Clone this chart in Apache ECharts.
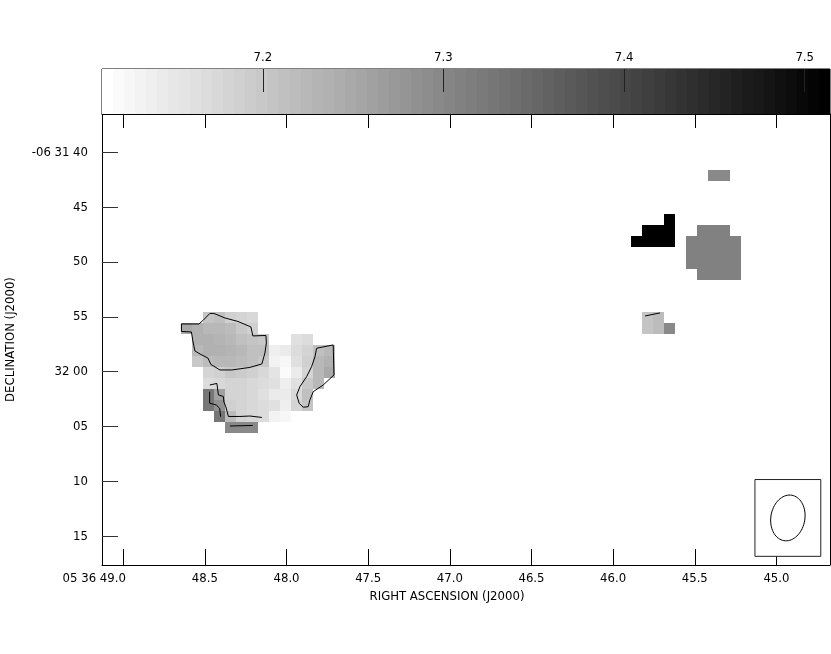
<!DOCTYPE html>
<html>
<head>
<meta charset="utf-8">
<script src="https://cdn.jsdelivr.net/npm/echarts@6/dist/echarts.min.js"></script>
<style>
  html, body { margin: 0; padding: 0; background: #fff; }
  #main { width: 831px; height: 654px; }
</style>
</head>
<body>
<div id="main"></div>
<script>
// grey wedge range and its labels
const wedgeMin = 7.111
const wedgeMax = 7.514
const wedgeTicks = [7.2, 7.3, 7.4, 7.5]
const wedgeSteps = 66

// axes (RA in seconds of 05h36m, Dec in arcsec past -06 31 00)
const raTicks = [49.0, 48.5, 48.0, 47.5, 47.0, 46.5, 46.0, 45.5, 45.0]
const decTicks = [40, 45, 50, 55, 60, 65, 70, 75]
const decLabels = ['-06 31 40', '45', '50', '55', '32 00', '05', '10', '15']

// map pixel grid: centre of col 0 / row 0, and pixel size
const raRef = 48.612
const decRef = 55.1
const pixRa = 0.0672
const pixDec = 1

// [row, first col, values...]
const pixelRows = [
  [-13, 48, [7.30, 7.30]],
  [-9, 44, [7.51]],
  [-8, 42, [7.51, 7.51, 7.51]],
  [-8, 47, [7.312, 7.312, 7.312]],
  [-7, 41, [7.51, 7.51, 7.51, 7.51]],
  [-7, 46, [7.312, 7.312, 7.312, 7.312, 7.312]],
  [-6, 46, [7.312, 7.312, 7.312, 7.312, 7.312]],
  [-5, 46, [7.312, 7.312, 7.312, 7.312, 7.312]],
  [-4, 47, [7.312, 7.312, 7.312, 7.312]],
  [0, 42, [7.205, 7.22]],
  [1, 42, [7.205, 7.22, 7.30]],
  [0, 2, [7.205, 7.21, 7.19, 7.18, 7.175]],
  [1, 0, [7.25, 7.235, 7.225, 7.225, 7.215, 7.20, 7.19]],
  [2, 1, [7.236, 7.236, 7.23, 7.223, 7.21, 7.204, 7.198]],
  [2, 10, [7.16, 7.166]],
  [3, 1, [7.223, 7.236, 7.236, 7.23, 7.223, 7.211, 7.211, 7.141, 7.147, 7.166, 7.179, 7.211, 7.223]],
  [4, 1, [7.198, 7.217, 7.223, 7.223, 7.217, 7.211, 7.198, 7.135, 7.128, 7.16, 7.185, 7.223, 7.236]],
  [5, 2, [7.179, 7.185, 7.198, 7.192, 7.185, 7.173, 7.154, 7.122, 7.147, 7.179, 7.223, 7.249]],
  [6, 2, [7.166, 7.173, 7.179, 7.179, 7.173, 7.166, 7.16, 7.141, 7.16, 7.198, 7.223]],
  [7, 2, [7.33, 7.261, 7.179, 7.179, 7.173, 7.16, 7.147, 7.147, 7.173, 7.211]],
  [8, 2, [7.33, 7.286, 7.185, 7.179, 7.173, 7.166, 7.16, 7.141, 7.179, 7.204]],
  [9, 3, [7.33, 7.22, 7.179, 7.173, 7.166, 7.135, 7.128]],
  [10, 4, [7.30, 7.30, 7.30]]
]

// contour paths, in [col, row] of the pixel grid
const contourA = [[-0.47, 0.55], [1.12, 0.55], [1.49, 0.23], [2.12, -0.41], [2.49, -0.41], [3.49, 0], [4.68, 0.32],
  [5.86, 0.82], [6.04, 1.64], [7.23, 1.6], [7.27, 2.28], [7.14, 3.19], [6.86, 4.19], [5.77, 4.51], [4.13, 4.74],
  [3.04, 4.74], [2.22, 4.24], [1.94, 3.65], [1.3, 3.33], [0.76, 3.01], [0.57, 2.1], [0.44, 1.28], [-0.47, 1.23], [-0.47, 0.55]]
const contourB = [[11.85, 2.76], [13.36, 2.46], [13.43, 5.2], [12.45, 6.11], [11.54, 6.72], [11.24, 7.47], [11.08, 8.09],
  [10.63, 8.14], [10.26, 7.78], [10.03, 7.02], [10.33, 6.26], [10.94, 5.35], [11.39, 4.44], [11.7, 3.53], [11.85, 2.76]]
const contourC = [[2.12, 6.11], [2.76, 5.97], [2.9, 7.02], [3.35, 7.16], [3.4, 7.66], [3.58, 8.11], [3.81, 8.98],
  [4.86, 8.98], [5.77, 8.94], [6.86, 9.07]]
const contourD = [[2.1, 6.72], [2.1, 7.77], [2.7, 7.93], [3.01, 8.23], [3.1, 9.0]]
const contourE = [[3.95, 9.85], [6.04, 9.8]]
const contourF = [[41.78, -0.18], [43.15, -0.46]]

// restoring beam (arcsec) and where it is drawn
const beamCentre = [44.930, 73.33]
const beamMajor = 4.2
const beamMinor = 3.1
const beamPA = -10
const beamBox = [6, 7]

const font = "'Liberation Sans Narrow', 'DejaVu Sans Condensed', sans-serif"

function toSky(col, row) {
  return [raRef - col * pixRa, decRef + row * pixDec]
}

function grey(v) {
  let t = (v - wedgeMin) / (wedgeMax - wedgeMin)
  t = Math.max(0, Math.min(0.9999, t))
  const step = Math.floor(t * wedgeSteps) / (wedgeSteps - 1)
  const g = Math.round(255 * (1 - step))
  return 'rgb(' + g + ',' + g + ',' + g + ')'
}

const pixels = []
pixelRows.forEach(function(r) {
  r[2].forEach(function(v, i) {
    const p = toSky(r[1] + i, r[0])
    pixels.push([p[0], p[1], v])
  })
})

const bands = []
for (let i = 0; i < wedgeSteps; i++) {
  const a = wedgeMin + (wedgeMax - wedgeMin) * i / wedgeSteps
  const b = wedgeMin + (wedgeMax - wedgeMin) * (i + 1) / wedgeSteps
  bands.push([a, b, (a + b) / 2])
}

function contourSeries(path) {
  return {
    type: 'line',
    xAxisIndex: 0,
    yAxisIndex: 0,
    data: path.map(function(p) { return toSky(p[0], p[1]) }),
    showSymbol: false,
    symbol: 'none',
    silent: true,
    z: 5,
    lineStyle: { color: '#000', width: 1 }
  }
}

const chart = echarts.init(document.getElementById('main'))

chart.setOption({
  animation: false,
  backgroundColor: '#fff',
  textStyle: { fontFamily: font },
  grid: [
    { left: 102, top: 114, width: 728, height: 451, show: false, outerBoundsMode: 'none', containLabel: false },
    { left: 102, top: 69, width: 728, height: 45, show: true, borderColor: '#000', borderWidth: 1, backgroundColor: 'transparent', outerBoundsMode: 'none', containLabel: false }
  ],
  xAxis: [
    {
      gridIndex: 0,
      type: 'value',
      position: 'bottom',
      min: 44.672,
      max: 49.13,
      inverse: true,
      splitLine: { show: false },
      axisLine: { show: true, onZero: false, lineStyle: { color: '#000', width: 1 } },
      axisTick: { show: true, inside: true, length: 16, customValues: raTicks, lineStyle: { color: '#000' } },
      axisLabel: {
        customValues: raTicks,
        margin: 7,
        fontSize: 13,
        fontFamily: font,
        color: '#000',
        formatter: function(v) {
          return Math.abs(v - 49) < 1e-6 ? '05 36 49.0{s| }' : v.toFixed(1)
        },
        rich: { s: { width: 58, fontSize: 13 } }
      },
      name: 'RIGHT ASCENSION (J2000)',
      nameLocation: 'middle',
      nameGap: 23,
      nameTextStyle: { fontSize: 13, fontFamily: font, color: '#000', padding: [0, 38, 0, 0] }
    },
    {
      gridIndex: 0,
      type: 'value',
      position: 'top',
      min: 44.672,
      max: 49.13,
      inverse: true,
      splitLine: { show: false },
      axisLine: { show: true, onZero: false, lineStyle: { color: '#000', width: 1 } },
      axisTick: { show: true, inside: true, length: 14, customValues: raTicks, lineStyle: { color: '#000' } },
      axisLabel: { show: false }
    },
    {
      gridIndex: 1,
      type: 'value',
      position: 'top',
      min: wedgeMin,
      max: wedgeMax,
      splitLine: { show: false },
      axisLine: { show: false, onZero: false },
      axisTick: { show: true, inside: true, length: 23, customValues: wedgeTicks, lineStyle: { color: '#222' } },
      axisLabel: {
        customValues: wedgeTicks,
        margin: 5,
        fontSize: 13,
        fontFamily: font,
        color: '#000',
        formatter: function(v) { return v.toFixed(1) }
      },
      z: 10
    }
  ],
  yAxis: [
    {
      gridIndex: 0,
      type: 'value',
      position: 'left',
      min: 36.51,
      max: 77.62,
      inverse: true,
      splitLine: { show: false },
      axisLine: { show: true, onZero: false, lineStyle: { color: '#000', width: 1 } },
      axisTick: { show: true, inside: true, length: 16, customValues: decTicks, lineStyle: { color: '#333' } },
      axisLabel: {
        customValues: decTicks,
        margin: 14,
        fontSize: 13,
        fontFamily: font,
        color: '#000',
        formatter: function(v) { return decLabels[decTicks.indexOf(Math.round(v))] }
      },
      name: 'DECLINATION (J2000)',
      nameLocation: 'middle',
      nameGap: 85,
      nameTextStyle: { fontSize: 13, fontFamily: font, color: '#000' }
    },
    {
      gridIndex: 0,
      type: 'value',
      position: 'right',
      min: 36.51,
      max: 77.62,
      inverse: true,
      splitLine: { show: false },
      axisLine: { show: true, onZero: false, lineStyle: { color: '#000', width: 1 } },
      axisTick: { show: false },
      axisLabel: { show: false }
    },
    {
      gridIndex: 1,
      type: 'value',
      min: 0,
      max: 1,
      show: false
    }
  ],
  series: [
    {
      type: 'custom',
      xAxisIndex: 2,
      yAxisIndex: 2,
      silent: true,
      data: bands,
      renderItem: function(params, api) {
        const p0 = api.coord([api.value(0), 1])
        const p1 = api.coord([api.value(1), 0])
        const x0 = Math.round(p0[0])
        const x1 = Math.round(p1[0])
        return {
          type: 'rect',
          shape: { x: x0, y: p0[1], width: x1 - x0, height: p1[1] - p0[1] },
          style: { fill: grey(api.value(2)) }
        }
      }
    },
    {
      type: 'custom',
      xAxisIndex: 0,
      yAxisIndex: 0,
      silent: true,
      data: pixels,
      renderItem: function(params, api) {
        const c = api.coord([api.value(0), api.value(1)])
        const s = api.size([pixRa, pixDec], [api.value(0), api.value(1)])
        const x0 = Math.round(c[0] - s[0] / 2)
        const x1 = Math.round(c[0] + s[0] / 2)
        const y0 = Math.round(c[1] - s[1] / 2)
        const y1 = Math.round(c[1] + s[1] / 2)
        return {
          type: 'rect',
          shape: { x: x0, y: y0, width: x1 - x0, height: y1 - y0 },
          style: { fill: grey(api.value(2)) }
        }
      }
    },
    contourSeries(contourA),
    contourSeries(contourB),
    contourSeries(contourC),
    contourSeries(contourD),
    contourSeries(contourE),
    contourSeries(contourF),
    {
      type: 'custom',
      xAxisIndex: 0,
      yAxisIndex: 0,
      silent: true,
      z: 6,
      data: [beamCentre],
      renderItem: function(params, api) {
        const c = api.coord([api.value(0), api.value(1)])
        const box = api.size([beamBox[0] * pixRa, beamBox[1] * pixDec], [api.value(0), api.value(1)])
        const unit = api.size([pixRa, pixDec], [api.value(0), api.value(1)])
        const pa = beamPA * Math.PI / 180
        const pts = []
        for (let i = 0; i < 72; i++) {
          const t = i / 72 * Math.PI * 2
          const ex = beamMinor / 2 * Math.cos(t)
          const ey = beamMajor / 2 * Math.sin(t)
          const rx = ex * Math.cos(pa) - ey * Math.sin(pa)
          const ry = ex * Math.sin(pa) + ey * Math.cos(pa)
          pts.push([c[0] + rx * unit[0], c[1] - ry * unit[1]])
        }
        return {
          type: 'group',
          children: [
            {
              type: 'rect',
              shape: { x: c[0] - box[0] / 2, y: c[1] - box[1] / 2, width: box[0], height: box[1] },
              style: { fill: '#fff', stroke: '#222', lineWidth: 1 }
            },
            {
              type: 'polygon',
              shape: { points: pts },
              style: { fill: 'none', stroke: '#000', lineWidth: 1 }
            }
          ]
        }
      }
    }
  ]
})
</script>
</body>
</html>
